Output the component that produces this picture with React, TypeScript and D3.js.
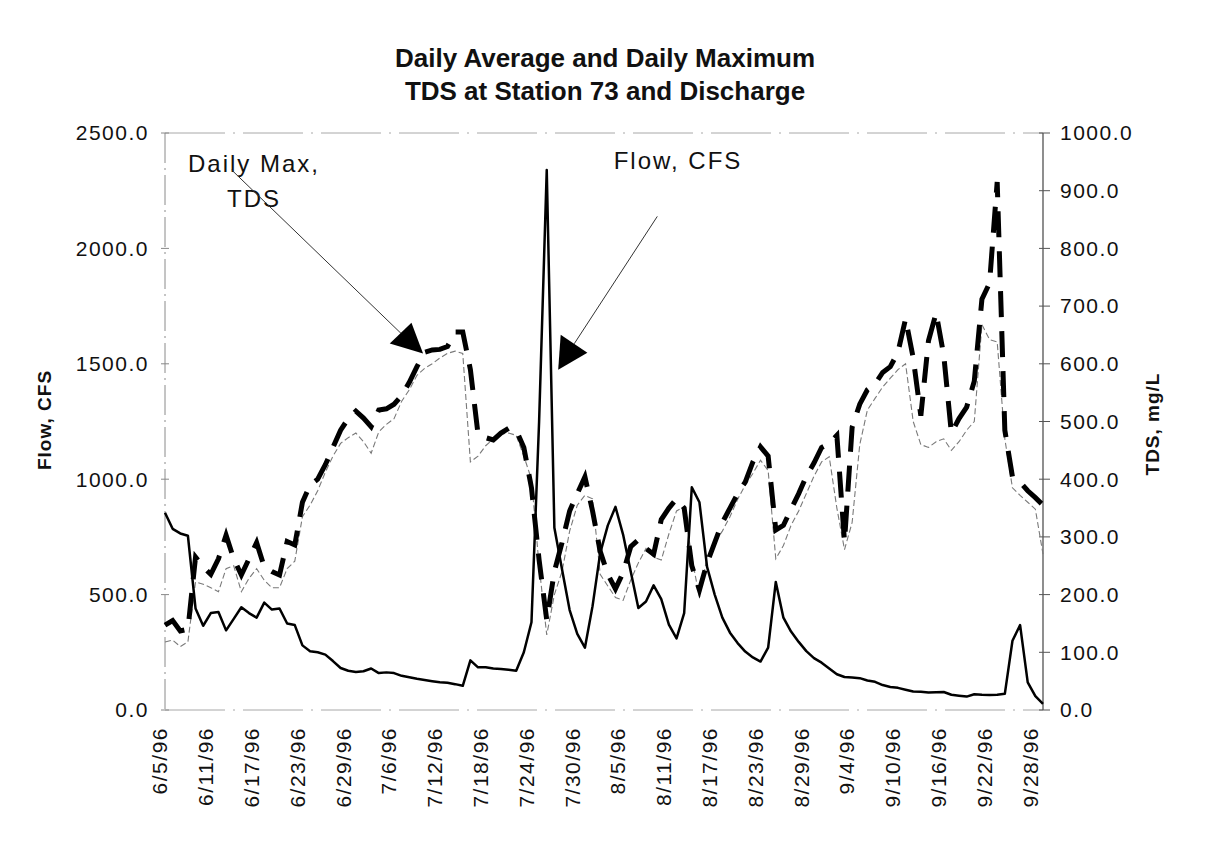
import React from "react";
import * as d3 from "d3";

// ---- DATA ----
// Flow (CFS), daily, 6/5/96 .. 9/29/96 (one day, 7/4, absent)
const flowCfs = [
  855, 785, 765, 755, 440, 365, 420, 425, 345, 395,
  445, 420, 400, 465, 435, 440, 375, 368, 280, 255,
  250, 240, 212, 182, 170, 165, 168, 180, 160, 163,
  160, 148, 142, 135, 130, 125, 120, 118, 112, 105,
  215, 185, 185, 180, 178, 174, 170, 250, 380, 1250,
  2340, 790, 610, 433, 330, 270, 450, 680, 800, 880,
  760, 600, 442, 470, 540, 480, 370, 310, 420, 965,
  900, 620, 500, 400, 335, 290, 253, 228, 210, 270,
  555, 400, 340, 295, 255, 225, 205, 180, 155, 143,
  141, 138, 128, 122, 108, 100, 96, 88, 80, 79,
  76, 77, 78, 66, 62, 58, 68, 66, 65, 66,
  70, 300, 368, 120, 60, 27,
];

// Daily maximum TDS (mg/L)
const tdsMax = [
  147, 155, 137, 140, 265, 248, 235, 262, 303, 262,
  234, 262, 290, 248, 240, 234, 292, 286, 360, 390,
  400, 425, 455, 485, 505, 518, 506, 491, 520, 522,
  530, 545, 568, 595, 620, 624, 625, 630, 655, 655,
  590, 478, 472, 468, 480, 488, 485, 455, 385, 260,
  156, 240, 290, 345, 375, 404, 345, 275, 235, 210,
  238, 283, 295, 280, 270, 330, 350, 366, 350, 250,
  208, 255, 290, 325, 350, 375, 395, 430, 456, 440,
  312, 320, 348, 375, 405, 428, 455, 462, 476, 292,
  490, 530, 555, 565, 585, 595, 620, 678, 610, 510,
  640, 688, 615, 480, 505, 525, 570, 712, 740, 915,
  485, 404, 395, 380, 368, 355,
];

// Daily average TDS (mg/L)
const tdsAvg = [
  118, 121, 110, 118, 222, 218, 212, 205, 245, 250,
  205, 228, 245, 225, 212, 212, 245, 258, 335, 355,
  380, 412, 440, 462, 472, 480, 465, 445, 482, 495,
  505, 535, 555, 580, 592, 600, 610, 618, 622, 618,
  430, 440, 458, 470, 478, 480, 476, 440, 400, 250,
  130, 200, 240, 310, 355, 372, 366, 235, 215, 195,
  190, 225, 255, 280, 265, 260, 305, 345, 352, 265,
  195, 265, 290, 310, 335, 365, 390, 410, 433, 415,
  262, 285, 320, 345, 375, 405, 430, 439, 350, 278,
  325, 460, 520, 540, 560, 575, 590, 600, 500, 460,
  455, 465, 470, 450, 465, 485, 500, 668, 642, 638,
  470, 385, 372, 360, 348, 270,
];

// Category labels (dates)
function buildDates(): string[] {
  const out: string[] = [];
  const d = new Date(1996, 5, 5);
  while (out.length < flowCfs.length) {
    const m = d.getMonth() + 1;
    const day = d.getDate();
    if (!(m === 7 && day === 4)) out.push(`${m}/${day}/96`);
    d.setDate(d.getDate() + 1);
  }
  return out;
}
const dates = buildDates();
const xTickEvery = 6;
const flowTicks = [0, 500, 1000, 1500, 2000, 2500];
const tdsTicks = [0, 100, 200, 300, 400, 500, 600, 700, 800, 900, 1000];

const titleLines = ["Daily Average and Daily Maximum", "TDS at Station 73 and Discharge"];

const FONT = "'Liberation Sans', Arial, Helvetica, sans-serif";

export default function App() {
  const W = 1207, H = 846;
  const left = 165, right = 1043, top = 133, bottom = 710;

  const x = d3.scaleLinear().domain([0, dates.length - 1]).range([left, right]);
  const yFlow = d3.scaleLinear().domain([0, 2500]).range([bottom, top]);
  const yTds = d3.scaleLinear().domain([0, 1000]).range([bottom, top]);

  const flowLine = d3.line<number>().x((_, i) => x(i)).y((v) => yFlow(v));
  const tdsLine = d3.line<number>().x((_, i) => x(i)).y((v) => yTds(v));

  // annotation arrow tips in data units
  const maxTip = { i: 33.8, v: 618 };
  const flowTip = { i: 51.5, v: 1474 };
  const mtx = x(maxTip.i), mty = yTds(maxTip.v);
  const ftx = x(flowTip.i), fty = yFlow(flowTip.v);

  const tickFont = { fontFamily: FONT, fontSize: 21, letterSpacing: 1.5, fill: "#111" } as const;

  return (
    <svg
      width={W}
      height={H}
      viewBox={`0 0 ${W} ${H}`}
      style={{ position: "absolute", left: 0, top: 0, background: "#fff" }}
    >
      <rect x={0} y={0} width={W} height={H} fill="#fff" />

      {titleLines.map((t, k) => (
        <text
          key={t}
          x={605}
          y={67 + k * 33}
          textAnchor="middle"
          style={{ fontFamily: FONT, fontSize: 26, fontWeight: 700, fill: "#111" }}
        >
          {t}
        </text>
      ))}

      <line x1={left} x2={right} y1={top} y2={top} stroke="#a8a8a8" strokeWidth={1} strokeDasharray="60 8 2 8" />
      <line x1={left} x2={right} y1={bottom} y2={bottom} stroke="#a8a8a8" strokeWidth={1} strokeDasharray="60 8 2 8" />
      <line x1={left} x2={left} y1={top} y2={bottom} stroke="#8a8a8a" strokeWidth={1} strokeDasharray="30 5 2 5" />
      <line x1={right} x2={right} y1={top} y2={bottom} stroke="#444" strokeWidth={1.2} />

      {flowTicks.map((t) => (
        <g key={`f${t}`}>
          <line x1={left - 4} x2={left + 4} y1={yFlow(t)} y2={yFlow(t)} stroke="#888" />
          <text x={149} y={yFlow(t)} dy="0.35em" textAnchor="end" style={tickFont}>
            {t.toFixed(1)}
          </text>
        </g>
      ))}

      {tdsTicks.map((t) => (
        <g key={`t${t}`}>
          <line x1={right - 4} x2={right + 7} y1={yTds(t)} y2={yTds(t)} stroke="#555" />
          <text x={1060} y={yTds(t)} dy="0.35em" textAnchor="start" style={tickFont}>
            {t.toFixed(1)}
          </text>
        </g>
      ))}

      {dates.map((d, i) =>
        i % xTickEvery === 0 ? (
          <text
            key={d}
            transform={`translate(${x(i) - 5},727) rotate(-90)`}
            dy="0.35em"
            textAnchor="end"
            style={tickFont}
          >
            {d}
          </text>
        ) : null
      )}

      <text
        transform={`translate(44,420) rotate(-90)`}
        dy="0.35em"
        textAnchor="middle"
        style={{ fontFamily: FONT, fontSize: 19, fontWeight: 700, letterSpacing: 1, fill: "#111" }}
      >
        Flow, CFS
      </text>
      <text
        transform={`translate(1152,424) rotate(-90)`}
        dy="0.35em"
        textAnchor="middle"
        style={{ fontFamily: FONT, fontSize: 19, fontWeight: 700, letterSpacing: 1, fill: "#111" }}
      >
        TDS, mg/L
      </text>

      <path d={tdsLine(tdsAvg) || ""} fill="none" stroke="#7a7a7a" strokeWidth={1.1} strokeDasharray="6 3" />
      <path d={tdsLine(tdsMax) || ""} fill="none" stroke="#000" strokeWidth={5} strokeDasharray="26 14" />
      <path d={flowLine(flowCfs) || ""} fill="none" stroke="#000" strokeWidth={2.5} strokeLinejoin="round" />

      <text x={254} y={172} textAnchor="middle" style={{ fontFamily: FONT, fontSize: 24, letterSpacing: 2, fill: "#111" }}>
        Daily Max,
      </text>
      <text x={254} y={207} textAnchor="middle" style={{ fontFamily: FONT, fontSize: 24, letterSpacing: 2, fill: "#111" }}>
        TDS
      </text>
      <line x1={231.7} y1={170} x2={mtx - 22} y2={mty - 20} stroke="#333" strokeWidth={1} />
      <polygon
        points={`${mtx},${mty} ${mtx - 33.3},${mty - 10} ${mtx - 11.6},${mty - 30.6}`}
        fill="#000"
      />

      <text x={678} y={169} textAnchor="middle" style={{ fontFamily: FONT, fontSize: 24, letterSpacing: 2, fill: "#111" }}>
        Flow, CFS
      </text>
      <line x1={657.3} y1={216.4} x2={ftx + 16} y2={fty - 26} stroke="#333" strokeWidth={1} />
      <polygon
        points={`${ftx},${fty} ${ftx + 2.5},${fty - 35} ${ftx + 29.2},${fty - 17}`}
        fill="#000"
      />
    </svg>
  );
}
